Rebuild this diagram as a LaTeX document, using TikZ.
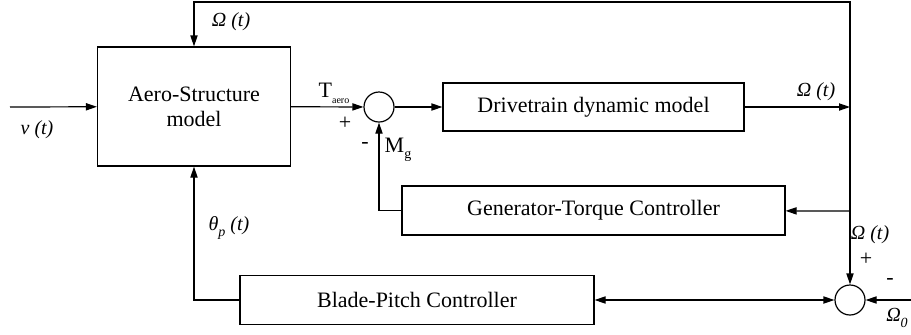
\documentclass[tikz,border=0pt]{standalone}
\usepackage{fontspec}
\setmainfont{Liberation Serif}
\usetikzlibrary{arrows.meta}

\tikzset{
  block/.style={draw,line width=0.6pt,fill=white,align=center,inner sep=2pt},
  sumnode/.style={draw,circle,line width=0.6pt,minimum size=15pt,inner sep=0pt},
  arr/.style={line width=0.6pt,-{Triangle[length=5.5pt,width=3.6pt]}},
  arrboth/.style={line width=0.6pt,{Triangle[length=5.5pt,width=3.6pt]}-{Triangle[length=5.5pt,width=3.6pt]}},
  lbl/.style={inner sep=1pt,font=\itshape}
}

\begin{document}
\begin{tikzpicture}[x=0.5pt,y=-0.5pt,font=\fontsize{11}{12.5}\selectfont]
\useasboundingbox (0,0) rectangle (911,334);
% blocks
\node[block,minimum width=96.5pt,minimum height=59.5pt] (aero) at (194,106.5) {Aero-Structure\\model};
\node[sumnode] (sum1) at (379,107) {};
\node[block,minimum width=150.5pt,minimum height=24pt] (drive) at (593.5,107) {Drivetrain dynamic model};
\node[block,minimum width=191.5pt,minimum height=24.5pt] (gen) at (593.5,210.5) {Generator-Torque Controller};
\node[block,minimum width=177pt,minimum height=24.5pt] (blade) at (417,300) {Blade-Pitch Controller};
\node[sumnode] (sum2) at (850,300) {};
% end points and corners
\coordinate (vin) at (10,107);
\coordinate (w0) at (911,300);
\coordinate (jA) at (850,107);
\coordinate (jB) at (850,211);
\coordinate (jTop) at (194,2);
% signals
\draw[arr] (vin) -- (aero);
\draw[arr] (aero) -- (sum1);
\draw[arr] (sum1) -- (drive);
\draw[arr] (drive) -- (jA);
\draw[arr] (jA) |- (jTop) -- (aero);
\draw[line width=0.6pt] (jA) -- (jB);
\draw[arr] (jB) -- (gen);
\draw[arr] (jB) -- (sum2);
\draw[arr] (gen.west) -| (sum1);
\draw[arr] (w0) -- (sum2);
\draw[arrboth] (blade) -- (sum2);
\draw[arr] (blade.west) -| (aero.south);
% labels
\node[lbl] (lOmTop) at (231,22) {Ω (t)};
\node[lbl] (lNu) at (37,130) {ν (t)};
\node[inner sep=1pt] (lTaero) at (334,93) {T\raisebox{-3pt}{\tiny aero}};
\node[inner sep=1pt] (lPlus1) at (345,123) {+};
\node[inner sep=1pt] (lMinus1) at (365,145) {-};
\node[inner sep=1pt] (lMg) at (398,150) {M\raisebox{-3pt}{\scriptsize g}};
\node[lbl] (lOmDrive) at (816,92) {Ω (t)};
\node[lbl] (lOmRight) at (870,235) {Ω (t)};
\node[inner sep=1pt] (lPlus2) at (866,259) {+};
\node[inner sep=1pt] (lMinus2) at (890,281) {-};
\node[lbl] (lOm0) at (897,318) {Ω\raisebox{-3pt}{\scriptsize 0}};
\node[lbl] (lTheta) at (229,228) {θ\raisebox{-3pt}{\scriptsize p} (t)};
\end{tikzpicture}
\end{document}
